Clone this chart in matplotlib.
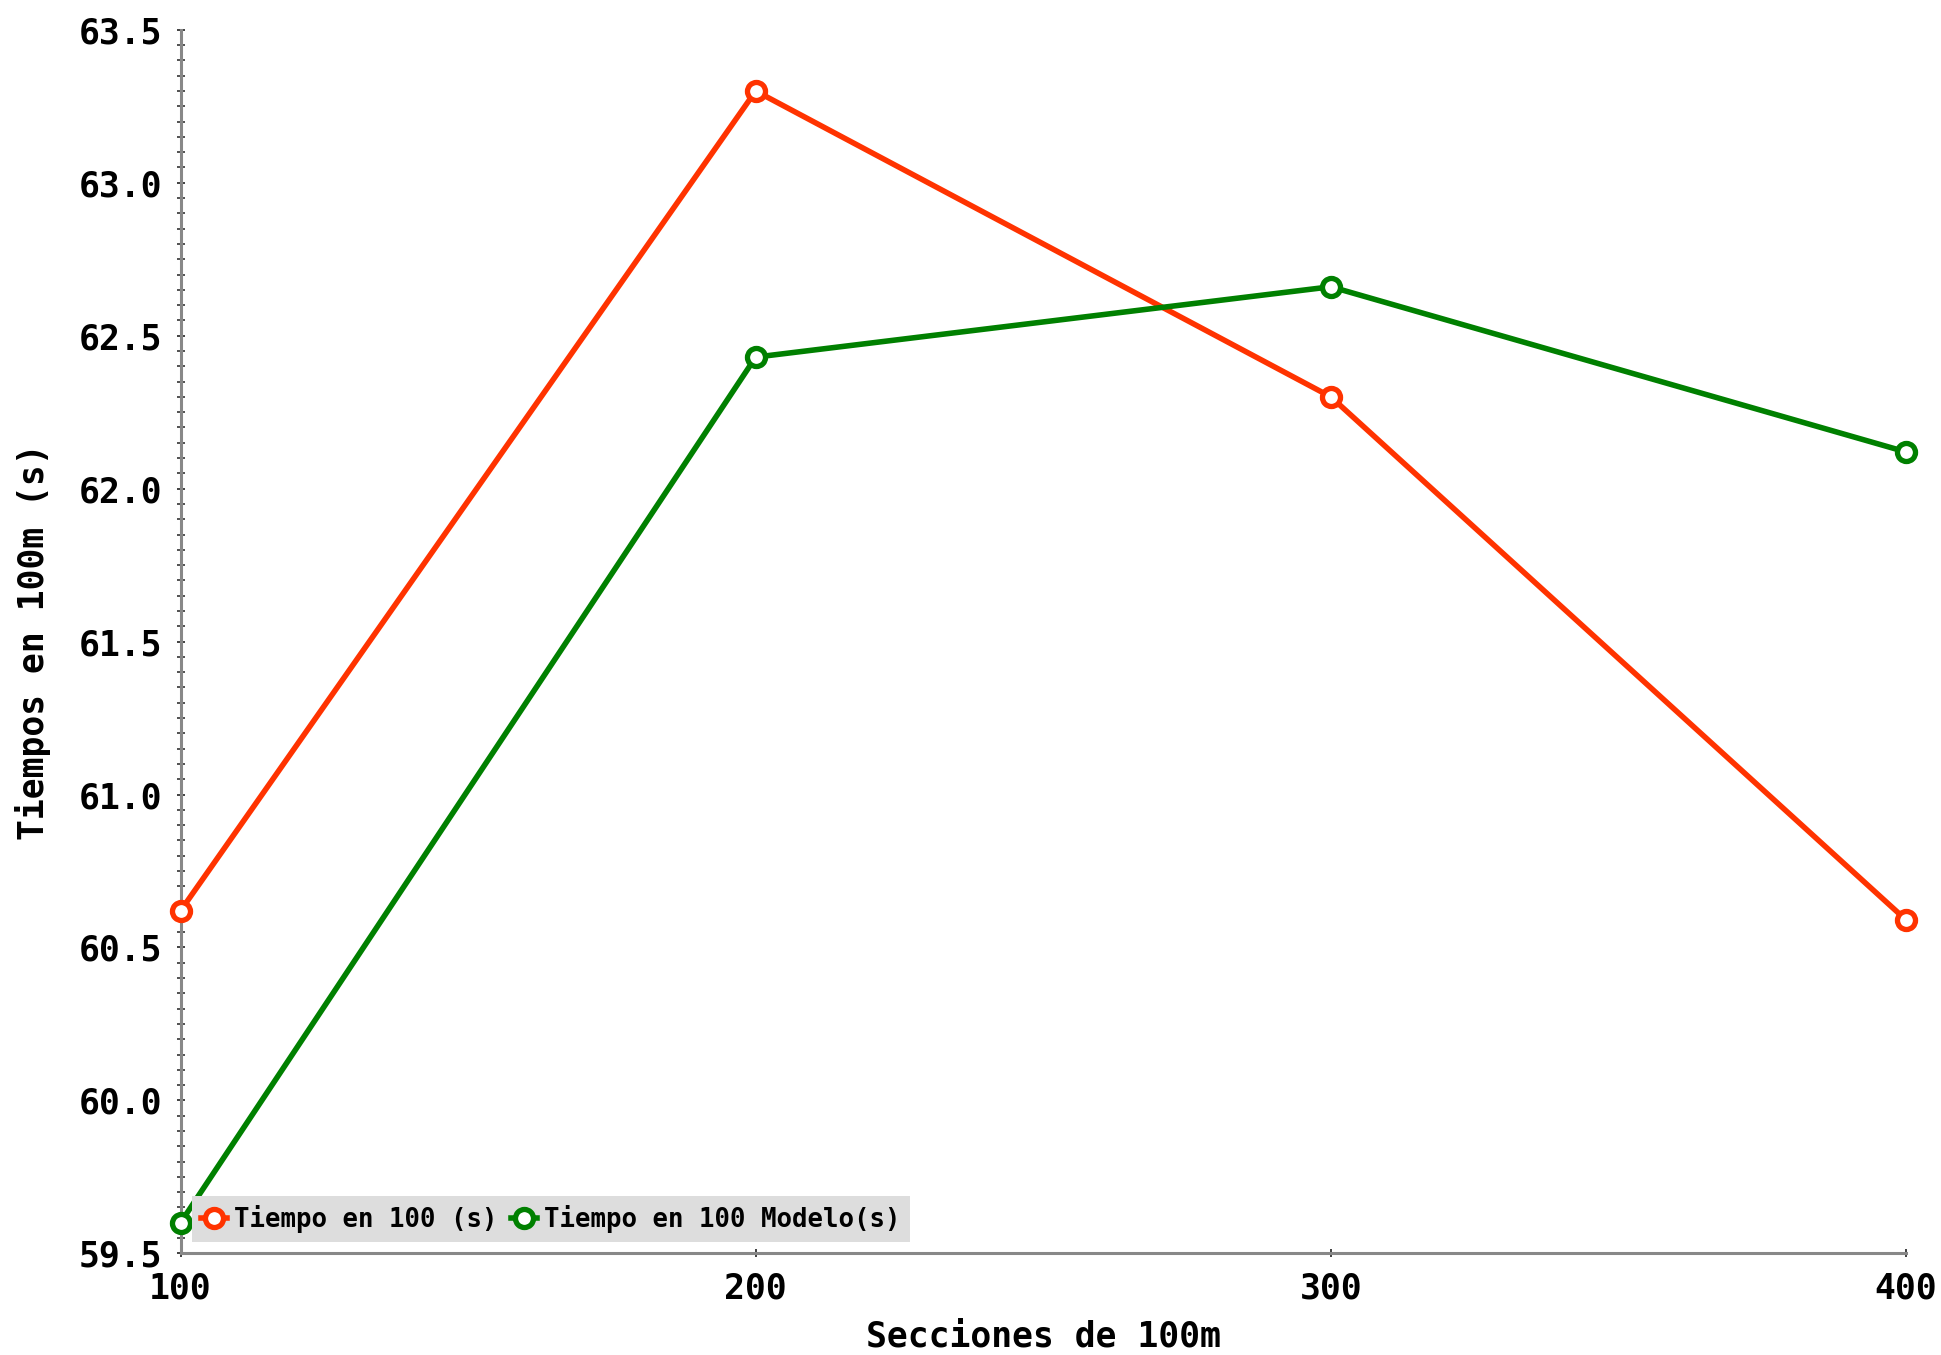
import numpy as np
import matplotlib
matplotlib.use('Agg')
import matplotlib.pyplot as plt
from matplotlib.ticker import MultipleLocator

# data
secciones = [100, 200, 300, 400]
tiempo_real = [60.62, 63.30, 62.30, 60.59]
tiempo_modelo = [59.60, 62.43, 62.66, 62.12]

plt.rcParams['font.family'] = 'DejaVu Sans Mono'
plt.rcParams['font.weight'] = 'bold'
plt.rcParams['axes.labelweight'] = 'bold'

fig = plt.figure(figsize=(19.41, 13.55), dpi=100)
ax = fig.add_axes([0.093, 0.075, 0.889, 0.903])

ax.plot(secciones, tiempo_real, color='#ff3300', lw=4, marker='o',
        ms=13, mfc='white', mec='#ff3300', mew=3.8, clip_on=False,
        label='Tiempo en 100 (s)', zorder=3)
ax.plot(secciones, tiempo_modelo, color='#008000', lw=4, marker='o',
        ms=13, mfc='white', mec='#008000', mew=3.8, clip_on=False,
        label='Tiempo en 100 Modelo(s)', zorder=3)

ax.set_xlim(100, 400)
ax.set_ylim(59.5, 63.5)
ax.set_xticks(secciones)
ax.yaxis.set_major_locator(MultipleLocator(0.5))
ax.yaxis.set_minor_locator(MultipleLocator(0.05))
ax.yaxis.set_major_formatter(matplotlib.ticker.FormatStrFormatter('%.1f'))

for s in ['top', 'right']:
    ax.spines[s].set_visible(False)
for s in ['left', 'bottom']:
    ax.spines[s].set_color('#888888')
    ax.spines[s].set_linewidth(2.2)

ax.tick_params(axis='both', which='major', direction='inout', length=6,
               width=1.3, color='#333333', labelsize=25)
ax.tick_params(axis='y', which='minor', direction='inout', length=5.5,
               width=1.2, color='#333333')
ax.tick_params(axis='x', which='major', pad=10)
ax.tick_params(axis='y', which='major', pad=10)

ax.set_xlabel('Secciones de 100m', fontsize=25, labelpad=10)
ax.set_ylabel('Tiempos en 100m (s)', fontsize=25, labelpad=20)

leg = ax.legend(loc='lower left', ncol=2, fontsize=18.5, frameon=True,
                fancybox=False, facecolor='#dddddd', edgecolor='none',
                framealpha=1, handlelength=1.0, handletextpad=0.3,
                columnspacing=0.5, borderpad=0.35, borderaxespad=0.45)

fig.savefig('out.png', dpi=100)
